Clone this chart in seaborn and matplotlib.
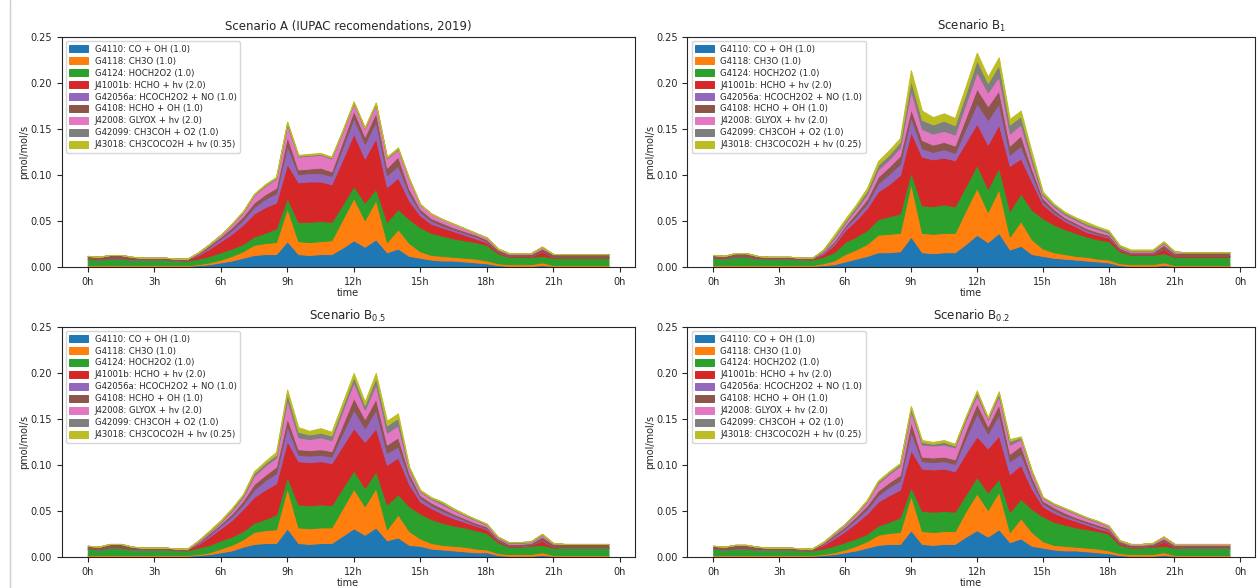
import numpy as np
import matplotlib.pyplot as plt
from matplotlib.lines import Line2D
import seaborn as sns

# -----------------------------
# Data (values in 1e-3 pmol/mol/s, half-hourly from 0h to 23h30)
# -----------------------------

hours = np.arange(0, 24, 0.5)

tick_hours = [0, 3, 6, 9, 12, 15, 18, 21, 24]
tick_labels = ["0h", "3h", "6h", "9h", "12h", "15h", "18h", "21h", "0h"]

labels_a = [
    "G4110: CO + OH (1.0)",
    "G4118: CH3O (1.0)",
    "G4124: HOCH2O2 (1.0)",
    "J41001b: HCHO + hv (2.0)",
    "G42056a: HCOCH2O2 + NO (1.0)",
    "G4108: HCHO + OH (1.0)",
    "J42008: GLYOX + hv (2.0)",
    "G42099: CH3COH + O2 (1.0)",
    "J43018: CH3COCO2H + hv (0.35)",
]
labels_b = labels_a[:-1] + ["J43018: CH3COCO2H + hv (0.25)"]

titles = [
    "Scenario A (IUPAC recomendations, 2019)",
    "Scenario B$_1$",
    "Scenario B$_{0.5}$",
    "Scenario B$_{0.2}$",
]

# Scenario A
a_g4110 = [1, 1, 1, 1, 1, 1, 1, 1, 1, 1, 2, 3, 5, 7, 10, 13, 14, 14, 28, 14,
           13, 14, 14, 21, 29, 22, 30, 16, 20, 12, 10, 8, 7, 7, 6, 5, 4, 2, 1, 1,
           1, 2, 1, 1, 1, 1, 1, 1]
a_g4118 = [1, 1, 1, 1, 1, 1, 1, 1, 1, 1, 1, 2, 3, 5, 7, 11, 12, 13, 36, 14,
           14, 14, 15, 31, 46, 29, 43, 11, 21, 14, 7, 5, 5, 4, 4, 4, 3, 2, 2, 2,
           2, 3, 1, 1, 1, 1, 1, 1]
a_g4124 = [7, 6, 7, 7, 6, 6, 6, 6, 5, 5, 6, 7, 8, 8, 8, 9, 11, 15, 11, 21,
           22, 22, 20, 16, 13, 19, 12, 22, 22, 26, 26, 24, 22, 20, 19, 18, 17, 11, 8, 8,
           8, 7, 8, 8, 8, 8, 8, 8]
a_j41001b = [0, 0, 0, 0, 0, 0, 0, 0, 0, 1, 4, 8, 12, 16, 21, 25, 28, 28, 37, 43,
             44, 43, 41, 49, 57, 48, 55, 38, 34, 20, 13, 10, 9, 8, 6, 4, 3, 2, 1, 1,
             1, 5, 1, 1, 1, 1, 1, 1]
a_g42056a = [0, 0, 0, 0, 0, 0, 0, 0, 0, 0, 1, 2, 3, 4, 5, 7, 9, 10, 20, 9,
             9, 9, 9, 13, 17, 16, 18, 13, 13, 8, 4, 3, 2, 2, 2, 2, 1, 0, 0, 0,
             0, 0, 0, 0, 0, 0, 0, 0]
a_g4108 = [3, 3, 4, 4, 3, 2, 2, 2, 2, 1, 1, 2, 2, 3, 4, 5, 5, 6, 10, 5,
           5, 6, 5, 7, 8, 8, 10, 8, 10, 5, 3, 3, 3, 2, 2, 2, 2, 2, 2, 2,
           2, 3, 3, 3, 3, 3, 3, 3]
a_j42008 = [0, 0, 0, 0, 0, 0, 0, 0, 0, 0, 1, 1, 2, 3, 4, 8, 9, 10, 13, 14,
            14, 14, 14, 10, 8, 8, 9, 10, 8, 10, 5, 5, 4, 4, 3, 2, 2, 1, 1, 1,
            1, 2, 0, 0, 0, 0, 0, 0]
a_g42099 = [0, 0, 0, 0, 0, 0, 0, 0, 0, 0, 0, 0, 0, 1, 1, 1, 1, 1, 2, 1,
            1, 1, 1, 1, 1, 1, 1, 1, 1, 1, 0, 0, 0, 0, 0, 0, 0, 0, 0, 0,
            0, 0, 0, 0, 0, 0, 0, 0]
a_j43018 = [0, 0, 0, 0, 0, 0, 0, 0, 0, 0, 0, 0, 0, 0, 0.5, 0.5, 1, 1, 1, 1,
            1, 1, 1, 1, 1, 1, 1, 1, 1, 0.5, 0.5, 0, 0, 0, 0, 0, 0, 0, 0, 0,
            0, 0, 0, 0, 0, 0, 0, 0]

# Scenario B1
b1_g4110 = [1, 1, 1, 1, 1, 1, 1, 1, 1, 1, 2, 3, 6, 9, 12, 16, 16, 17, 33, 16,
            15, 16, 16, 25, 35, 27, 37, 19, 23, 14, 12, 10, 9, 8, 7, 6, 5, 2, 1, 1,
            1, 2, 1, 1, 1, 1, 1, 1]
b1_g4118 = [1, 1, 1, 1, 1, 1, 1, 1, 1, 1, 2, 4, 8, 10, 13, 19, 20, 20, 58, 21,
            21, 21, 21, 37, 51, 33, 48, 14, 27, 16, 8, 6, 5, 4, 4, 3, 3, 2, 2, 2,
            2, 3, 1, 1, 1, 1, 1, 1]
b1_g4124 = [8, 7, 9, 9, 7, 7, 7, 7, 6, 6, 7, 9, 13, 14, 15, 17, 19, 21, 12, 30,
            30, 31, 29, 26, 25, 25, 23, 28, 30, 32, 33, 30, 27, 25, 22, 21, 20, 13, 10, 10,
            10, 10, 9, 9, 9, 9, 9, 9]
b1_j41001b = [0, 0, 0, 0, 0, 0, 0, 0, 0, 1, 3, 8, 13, 18, 24, 30, 35, 42, 44, 53,
              51, 51, 50, 48, 45, 48, 47, 49, 38, 31, 15, 12, 9, 7, 5, 5, 4, 2, 1, 1,
              1, 5, 1, 1, 1, 1, 1, 1]
b1_g42056a = [0, 0, 0, 0, 0, 0, 0, 0, 0, 0, 1, 2, 3, 4, 5, 9, 11, 12, 16, 9,
              8, 9, 8, 15, 22, 27, 23, 12, 14, 8, 3, 2, 2, 2, 2, 1, 1, 0, 0, 0,
              0, 0, 0, 0, 0, 0, 0, 0]
b1_g4108 = [3, 3, 4, 4, 3, 2, 2, 2, 2, 1, 1, 2, 2, 4, 5, 7, 8, 9, 9, 9,
            8, 8, 8, 12, 16, 15, 14, 10, 11, 6, 4, 3, 2, 2, 2, 2, 2, 2, 2, 2,
            2, 4, 3, 4, 4, 4, 4, 4]
b1_j42008 = [0, 0, 0, 0, 0, 0, 0, 0, 0, 0, 1, 3, 3, 4, 5, 8, 8, 9, 20, 12,
             12, 12, 12, 15, 18, 15, 15, 13, 12, 7, 3, 3, 3, 3, 3, 3, 2, 1, 1, 1,
             1, 2, 1, 0, 0, 0, 0, 0]
b1_g42099 = [0, 0, 0, 0, 0, 0, 0, 0, 0, 0, 1, 2, 2, 3, 4, 5, 5, 6, 11, 10,
             10, 11, 10, 11, 13, 10, 13, 10, 9, 6, 2, 2, 2, 2, 2, 2, 2, 1, 1, 1,
             1, 1, 1, 0, 0, 0, 0, 0]
b1_j43018 = [0, 0, 0, 0, 0, 0, 0, 0, 0, 0, 1, 2, 2, 2, 3, 4, 5, 4, 11, 10,
             8, 8, 8, 8, 8, 7, 8, 6, 6, 5, 2, 1, 1, 1, 2, 1, 1, 1, 1, 1,
             1, 1, 0, 0, 0, 0, 0, 0]

# Scenario B0.5
b05_g4110 = [1, 1, 1, 1, 1, 1, 1, 1, 1, 1, 2, 3, 5, 7, 11, 14, 15, 15, 31, 15,
             14, 15, 15, 23, 31, 24, 32, 18, 21, 13, 12, 9, 8, 7, 6, 5, 5, 2, 1, 1,
             1, 2, 1, 1, 1, 1, 1, 1]
b05_g4118 = [1, 1, 1, 1, 1, 1, 1, 1, 1, 1, 1, 2, 4, 6, 8, 13, 14, 15, 44, 17,
             17, 17, 17, 30, 43, 31, 43, 12, 25, 15, 8, 6, 5, 5, 5, 4, 3, 2, 2, 2,
             2, 3, 1, 1, 1, 1, 1, 1]
b05_g4124 = [7, 6, 8, 8, 6, 6, 6, 6, 5, 5, 7, 8, 9, 9, 9, 10, 12, 16, 12, 25,
             25, 25, 24, 22, 20, 20, 18, 27, 22, 27, 27, 26, 24, 22, 21, 20, 18, 12, 8, 8,
             9, 8, 8, 8, 8, 8, 8, 8]
b05_j41001b = [0, 0, 0, 0, 0, 0, 0, 0, 0, 1, 4, 9, 13, 18, 24, 28, 32, 34, 39, 47,
               47, 47, 46, 46, 46, 50, 47, 43, 40, 24, 13, 12, 10, 8, 6, 5, 4, 2, 1, 1,
               1, 5, 1, 0, 0, 0, 0, 0]
b05_g42056a = [0, 0, 0, 0, 0, 0, 0, 0, 0, 0, 1, 2, 3, 4, 5, 8, 10, 11, 16, 7,
               7, 7, 7, 14, 20, 15, 20, 13, 12, 7, 4, 3, 3, 3, 2, 1, 1, 0, 0, 0,
               0, 0, 0, 0, 0, 0, 0, 0]
b05_g4108 = [3, 3, 4, 4, 3, 2, 2, 2, 2, 1, 1, 2, 2, 3, 4, 6, 6, 7, 9, 6,
             6, 6, 6, 9, 13, 10, 12, 9, 10, 5, 3, 3, 3, 2, 2, 2, 2, 2, 2, 2,
             2, 4, 3, 4, 4, 4, 4, 4]
b05_j42008 = [0, 0, 0, 0, 0, 0, 0, 0, 0, 0, 1, 1, 2, 3, 4, 9, 10, 10, 20, 13,
              12, 13, 12, 15, 17, 10, 16, 13, 13, 4, 4, 4, 4, 4, 3, 3, 2, 1, 1, 1,
              1, 2, 1, 0, 0, 0, 0, 0]
b05_g42099 = [0, 0, 0, 0, 0, 0, 0, 0, 0, 0, 1, 1, 1, 2, 2, 3, 3, 3, 7, 6,
              5, 5, 5, 5, 6, 5, 7, 8, 8, 2, 1, 1, 2, 1, 1, 1, 1, 1, 1, 1,
              1, 1, 0, 0, 0, 0, 0, 0]
b05_j43018 = [0, 0, 0, 0, 0, 0, 0, 0, 0, 0, 0, 1, 1, 1, 1, 2, 2, 3, 4, 5,
              4, 5, 4, 4, 4, 4, 5, 5, 5, 1, 1, 1, 1, 1, 1, 0, 0, 0, 0, 0,
              0, 0, 0, 0, 0, 0, 0, 0]

# Scenario B0.2
b02_g4110 = [1, 1, 1, 1, 1, 1, 1, 1, 1, 1, 2, 3, 5, 7, 10, 13, 14, 14, 29, 14,
             13, 14, 14, 22, 29, 22, 30, 16, 20, 12, 10, 8, 7, 7, 6, 5, 4, 2, 1, 1,
             1, 2, 1, 1, 1, 1, 1, 1]
b02_g4118 = [1, 1, 1, 1, 1, 1, 1, 1, 1, 1, 1, 2, 3, 5, 7, 11, 12, 13, 38, 14,
             14, 14, 14, 28, 40, 29, 41, 11, 22, 15, 7, 5, 5, 4, 4, 4, 3, 2, 2, 2,
             2, 3, 1, 1, 1, 1, 1, 1]
b02_g4124 = [7, 6, 7, 7, 6, 6, 6, 6, 5, 5, 6, 7, 8, 8, 8, 10, 12, 16, 9, 22,
             22, 22, 21, 18, 18, 19, 14, 22, 21, 25, 27, 25, 23, 21, 20, 19, 18, 9, 7, 7,
             8, 7, 8, 8, 8, 8, 8, 8]
b02_j41001b = [0, 0, 0, 0, 0, 0, 0, 0, 0, 1, 4, 8, 12, 17, 22, 26, 29, 30, 40, 46,
               46, 46, 44, 45, 44, 48, 47, 41, 37, 22, 11, 10, 8, 7, 5, 3, 3, 2, 1, 1,
               1, 5, 1, 0, 0, 0, 0, 0]
b02_g42056a = [0, 0, 0, 0, 0, 0, 0, 0, 0, 0, 1, 2, 3, 4, 5, 7, 9, 10, 20, 8,
               8, 8, 8, 17, 25, 16, 23, 14, 12, 8, 3, 3, 2, 2, 2, 2, 1, 0, 0, 0,
               0, 0, 0, 0, 0, 0, 0, 0]
b02_g4108 = [3, 3, 4, 4, 3, 2, 2, 2, 2, 1, 1, 2, 2, 3, 4, 5, 5, 6, 11, 5,
             5, 5, 5, 8, 11, 8, 11, 8, 9, 5, 3, 3, 3, 2, 2, 2, 2, 2, 2, 2,
             2, 3, 2, 3, 3, 3, 3, 3]
b02_j42008 = [0, 0, 0, 0, 0, 0, 0, 0, 0, 0, 1, 1, 2, 3, 4, 8, 9, 10, 11, 13,
              13, 13, 13, 11, 9, 7, 9, 10, 7, 5, 3, 3, 4, 4, 3, 3, 2, 1, 1, 1,
              1, 2, 1, 1, 1, 1, 1, 1]
b02_g42099 = [0, 0, 0, 0, 0, 0, 0, 0, 0, 0, 0, 1, 1, 1, 1, 2, 2, 2, 4, 3,
              2, 3, 2, 3, 3, 2, 3, 4, 2, 1, 1, 1, 1, 1, 1, 1, 1, 0, 0, 0,
              0, 0, 0, 0, 0, 0, 0, 0]
b02_j43018 = [0, 0, 0, 0, 0, 0, 0, 0, 0, 0, 0, 0, 0, 0, 1, 1, 1, 1, 2, 2,
              2, 2, 2, 1, 2, 1, 2, 2, 1, 1, 0, 0, 0, 0, 0, 0, 0, 0, 0, 0,
              0, 0, 0, 0, 0, 0, 0, 0]

scenarios = [
    [a_g4110, a_g4118, a_g4124, a_j41001b, a_g42056a, a_g4108, a_j42008, a_g42099, a_j43018],
    [b1_g4110, b1_g4118, b1_g4124, b1_j41001b, b1_g42056a, b1_g4108, b1_j42008, b1_g42099, b1_j43018],
    [b05_g4110, b05_g4118, b05_g4124, b05_j41001b, b05_g42056a, b05_g4108, b05_j42008, b05_g42099, b05_j43018],
    [b02_g4110, b02_g4118, b02_g4124, b02_j41001b, b02_g42056a, b02_g4108, b02_j42008, b02_g42099, b02_j43018],
]
legend_labels = [labels_a, labels_b, labels_b, labels_b]

# -----------------------------
# Plot
# -----------------------------

sns.set_style("ticks")
plt.rcParams["font.family"] = ["DejaVu Sans"]
colors = sns.color_palette("tab10", 9)

fig = plt.figure(figsize=(12.59, 5.88), dpi=100)

positions = [
    [0.049, 0.546, 0.455, 0.391],
    [0.546, 0.546, 0.451, 0.391],
    [0.049, 0.053, 0.455, 0.391],
    [0.546, 0.053, 0.451, 0.391],
]

for pos, series, labels, title in zip(positions, scenarios, legend_labels, titles):
    ax = fig.add_axes(pos)
    values = [np.array(s) / 1000.0 for s in series]
    ax.stackplot(hours, *values, labels=labels, colors=colors,
                 edgecolor="face", linewidth=0.7)
    ax.set_xlim(-1.175, 24.675)
    ax.set_ylim(0, 0.25)
    ax.set_yticks([0, 0.05, 0.10, 0.15, 0.20, 0.25])
    ax.set_yticklabels(["%.2f" % v for v in [0, 0.05, 0.10, 0.15, 0.20, 0.25]])
    ax.set_xticks(tick_hours)
    ax.set_xticklabels(tick_labels)
    ax.tick_params(labelsize=7, length=3.5, width=0.8)
    ax.set_title(title, fontsize=8.5, pad=5)
    ax.set_xlabel("time", fontsize=7, labelpad=1)
    ax.set_ylabel("pmol/mol/s", fontsize=7, labelpad=1)
    ax.legend(loc="upper left", fontsize=6.1, labelspacing=0.35,
              handlelength=2.2, handleheight=0.8, borderaxespad=0.5)

# thin grey border line at the left of the picture
fig.add_artist(Line2D([10 / 1259, 10 / 1259], [0, 1], color="#cfcfcf", lw=1))

plt.savefig("out.png", dpi=100)
